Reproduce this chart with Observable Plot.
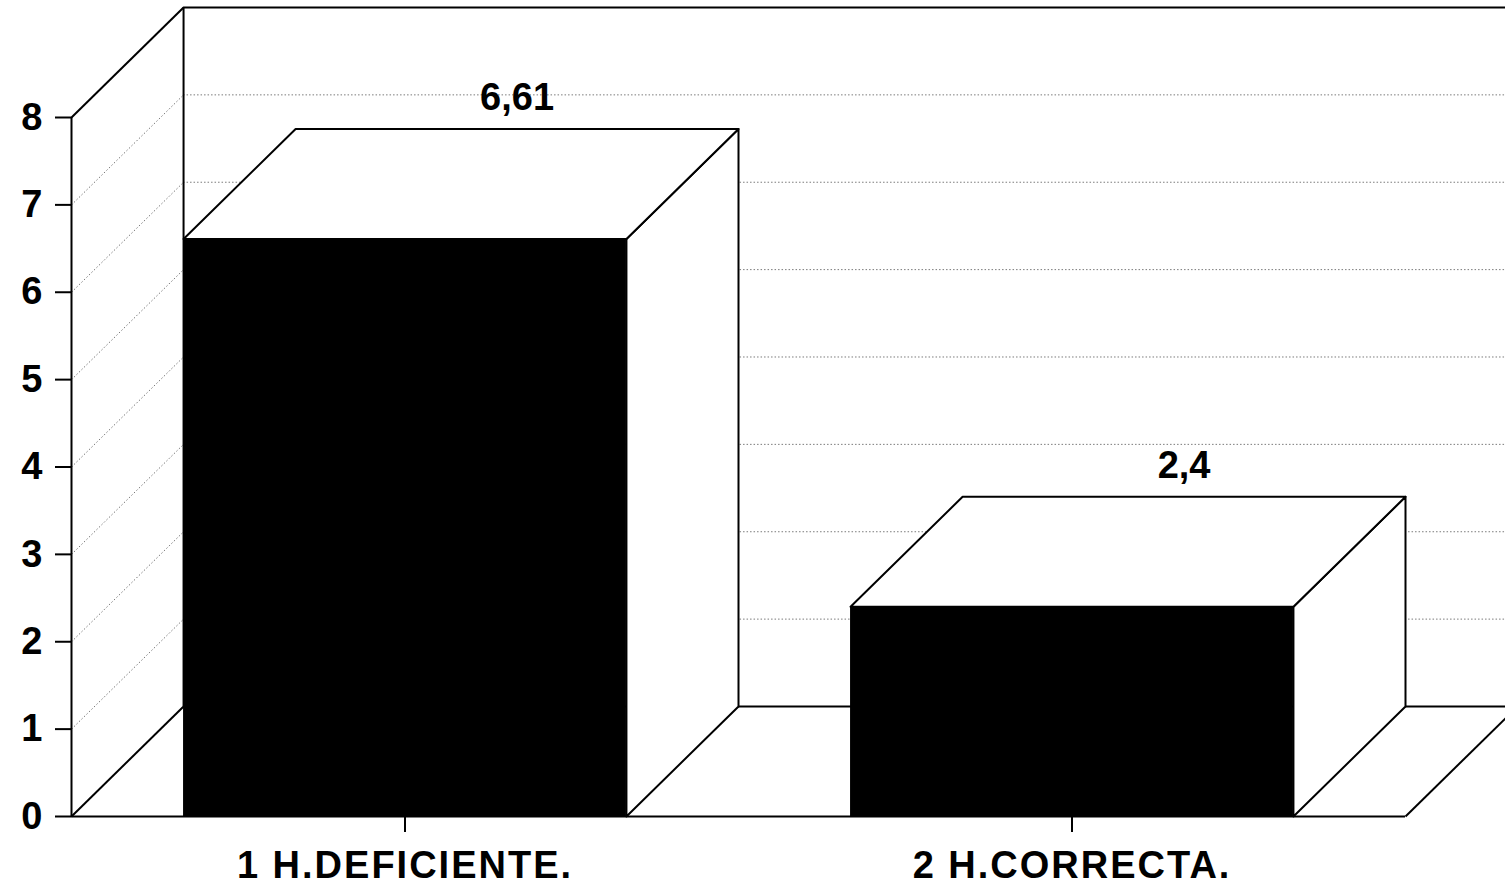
<!DOCTYPE html>
<html>
<head>
<meta charset="utf-8">
<script src="https://cdn.jsdelivr.net/npm/d3@7"></script>
<script src="https://cdn.jsdelivr.net/npm/@observablehq/plot@0.6"></script>
<style>
  html, body { margin: 0; padding: 0; background: #fff; overflow: hidden; }
  /* category labels are set slightly wide */
  #chart [aria-label="x-axis tick label"] { letter-spacing: 2px; }
</style>
</head>
<body>
<div id="chart"></div>
<script>
// Data
const categories = ["1 H.DEFICIENTE.", "2 H.CORRECTA."];
const values = [6.61, 2.4];
const valueLabels = ["6,61", "2,4"];
const yTicks = [0, 1, 2, 3, 4, 5, 6, 7, 8];

// Oblique 3D projection, expressed in data units:
// x in category slots (one slot per category), y in value units.
const DX = 0.168;     // horizontal depth offset
const DY = 1.259;     // vertical depth offset
const INSET = 0.168;  // gap between slot edge and bar front face
const Y_MAX = 8;
const X_MAX = categories.length;

const bars = categories.map((category, i) => ({
  category, i,
  value: values[i],
  label: valueLabels[i],
  x1: i + INSET,
  x2: i + 1 - INSET
}));

// Closed outlines of the top and right side faces of each bar
const topFaces = bars.flatMap(b => [
  [b.x1, b.value], [b.x1 + DX, b.value + DY], [b.x2 + DX, b.value + DY],
  [b.x2, b.value], [b.x1, b.value]
].map(([x, y]) => ({id: b.i, x, y})));

const sideFaces = bars.flatMap(b => [
  [b.x2, 0], [b.x2, b.value], [b.x2 + DX, b.value + DY],
  [b.x2 + DX, DY], [b.x2, 0]
].map(([x, y]) => ({id: b.i, x, y})));

const innerTicks = yTicks.filter(t => t > 0 && t < Y_MAX);
const edgeTicks = [0, Y_MAX];
const catCenters = categories.map((_, i) => i + 0.5);

const LINE = 2;
const GRID = {stroke: "#7a7a7a", strokeWidth: 1, strokeDasharray: "1.5,2"};
const FONT = {fontSize: 38, fontWeight: "bold"};

const chart = Plot.plot({
  width: 1505,
  height: 888,
  marginLeft: 71,
  marginRight: 100,
  marginTop: 117,
  marginBottom: 72,
  style: {
    fontFamily: "'Liberation Sans', Arial, Helvetica, sans-serif",
    background: "white",
    color: "black"
  },
  x: {domain: [0, X_MAX]},
  y: {domain: [0, Y_MAX]},
  marks: [
    // dotted gridlines on the back wall
    Plot.ruleY(innerTicks, {y: t => t + DY, x1: DX, x2: X_MAX + DX, ...GRID}),
    // dotted gridlines on the left wall
    Plot.link(innerTicks, {x1: 0, y1: t => t, x2: DX, y2: t => t + DY, ...GRID}),

    // solid edges of walls and floor
    Plot.ruleY(edgeTicks, {y: t => t + DY, x1: DX, x2: X_MAX + DX, stroke: "black", strokeWidth: LINE}),
    Plot.link(edgeTicks, {x1: 0, y1: t => t, x2: DX, y2: t => t + DY, stroke: "black", strokeWidth: LINE}),
    Plot.ruleX([DX], {y1: DY, y2: Y_MAX + DY, stroke: "black", strokeWidth: LINE}),
    Plot.ruleX([0], {y1: 0, y2: Y_MAX, stroke: "black", strokeWidth: LINE}),
    Plot.ruleY([0], {x1: 0, x2: X_MAX, stroke: "black", strokeWidth: LINE}),
    Plot.link([X_MAX], {x1: d => d, y1: 0, x2: d => d + DX, y2: DY, stroke: "black", strokeWidth: LINE}),

    // bar side and top faces
    Plot.line(sideFaces, {x: "x", y: "y", z: "id", fill: "white", stroke: "black", strokeWidth: LINE, curve: "linear"}),
    Plot.line(topFaces, {x: "x", y: "y", z: "id", fill: "white", stroke: "black", strokeWidth: LINE, curve: "linear"}),
    // bar front faces
    Plot.rect(bars, {x1: "x1", x2: "x2", y1: 0, y2: "value", fill: "black"}),

    // value labels above the bars
    Plot.text(bars, {x: b => b.i + 0.5 + DX, y: b => b.value + DY, text: "label", dy: -31, fill: "black", ...FONT}),

    // axes
    Plot.axisY({ticks: yTicks, tickFormat: d => String(d), tickSize: 16, tickPadding: 13, strokeWidth: LINE, label: null, ...FONT}),
    Plot.axisX({ticks: catCenters, tickFormat: d => categories[Math.floor(d)], tickSize: 16, tickPadding: 19, strokeWidth: LINE, label: null, ...FONT})
  ]
});

document.getElementById("chart").appendChild(chart);
</script>
</body>
</html>
